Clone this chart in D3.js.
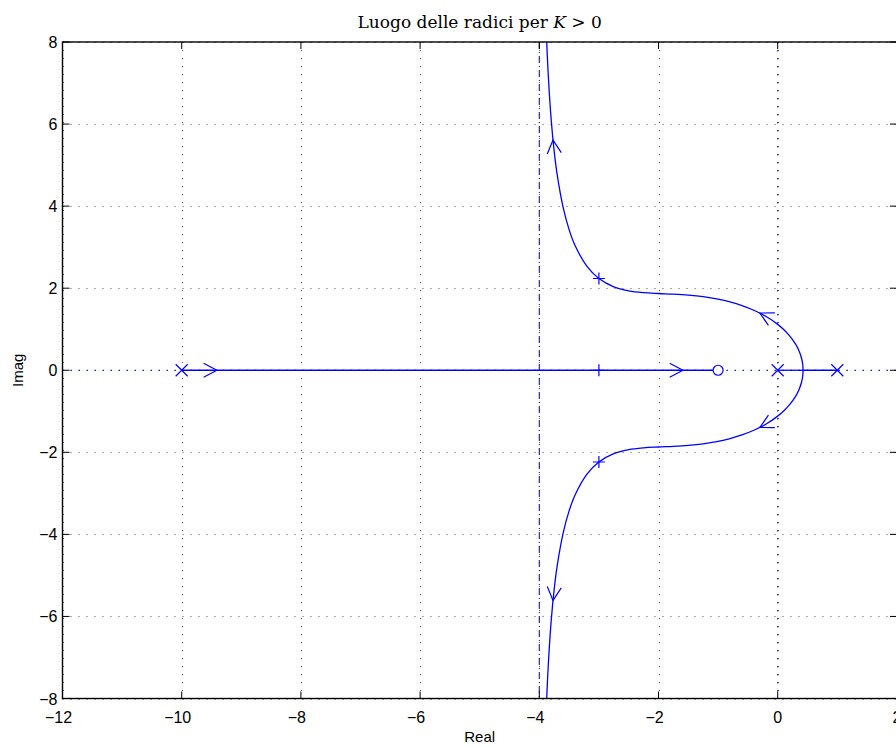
<!DOCTYPE html>
<html>
<head>
<meta charset="utf-8">
<script src="https://cdn.jsdelivr.net/npm/d3@7"></script>
<style>
body { margin: 0; background: #fff; }
</style>
</head>
<body>
<script>
// Chart size and plot box
var width = 896;
var height = 747;
var plotLeft = 62.5, plotRight = 896.9, plotTop = 42, plotBottom = 698.5;

var xTicks = [-12, -10, -8, -6, -4, -2, 0, 2];
var yTicks = [-8, -6, -4, -2, 0, 2, 4, 6, 8];

// open loop poles and zeros
var poleRe = [-10, 0, 1];
var zeroRe = [-1];

// closed loop poles for the marked gain
var gainRe = [-3, -3, -3];
var gainIm = [2.236, 0, -2.236];

// upper complex branch (starts at breakaway point)
var upperRe = [0.426, 0.42, 0.4, 0.35, 0.3, 0.2, 0.1, 0, -0.2, -0.4, -0.6, -0.8, -1.0, -1.25, -1.5, -1.75,
    -2.0, -2.25, -2.5, -2.75, -3.0, -3.2, -3.4, -3.5, -3.6, -3.7, -3.75, -3.8, -3.85, -3.88];
var upperIm = [0, 0.141, 0.292, 0.497, 0.635, 0.838, 0.993, 1.118, 1.315, 1.463, 1.577, 1.665, 1.732, 1.792, 1.830, 1.854,
    1.871, 1.892, 1.937, 2.034, 2.236, 2.532, 3.040, 3.428, 3.967, 4.766, 5.333, 6.096, 7.203, 8.167];

// lower complex branch
var lowerRe = [0.426, 0.42, 0.4, 0.35, 0.3, 0.2, 0.1, 0, -0.2, -0.4, -0.6, -0.8, -1.0, -1.25, -1.5, -1.75,
    -2.0, -2.25, -2.5, -2.75, -3.0, -3.2, -3.4, -3.5, -3.6, -3.7, -3.75, -3.8, -3.85, -3.88];
var lowerIm = [0, -0.141, -0.292, -0.497, -0.635, -0.838, -0.993, -1.118, -1.315, -1.463, -1.577, -1.665, -1.732, -1.792, -1.830, -1.854,
    -1.871, -1.892, -1.937, -2.034, -2.236, -2.532, -3.040, -3.428, -3.967, -4.766, -5.333, -6.096, -7.203, -8.167];

// real axis branches [from, to]
var realFrom = [-10, 0, 1];
var realTo = [-1, 0.426, 0.426];

// asymptote centre
var asymRe = -4;

// arrows: tip position and direction (data units)
var arrowRe = [-9.41, -1.59, -0.3, -0.3, -3.77, -3.77];
var arrowIm = [0, 0, 1.394, -1.394, 5.61, -5.61];
var arrowDRe = [1, 1, -0.2, -0.2, -0.05, -0.05];
var arrowDIm = [0, 0, 0.148, -0.148, 0.76, -0.76];

var blue = "#0000ff";

var x = d3.scaleLinear().domain([-12, 2]).range([plotLeft, plotRight]);
var y = d3.scaleLinear().domain([-8, 8]).range([plotBottom, plotTop]);

var svg = d3.select("body")
    .append("svg")
    .attr("width", width)
    .attr("height", height)
    .style("font-family", "'Liberation Sans', Arial, sans-serif");

svg.append("defs").append("clipPath")
    .attr("id", "plot")
    .append("rect")
    .attr("x", plotLeft)
    .attr("y", plotTop)
    .attr("width", plotRight - plotLeft)
    .attr("height", plotBottom - plotTop);

// grid
var grid = svg.append("g")
    .attr("stroke", "#555")
    .attr("stroke-width", 1)
    .attr("stroke-dasharray", "1,7");

grid.selectAll(".gx")
    .data(xTicks)
    .enter()
    .append("line")
    .attr("x1", function (d) { return Math.round(x(d)) + 0.5; })
    .attr("x2", function (d) { return Math.round(x(d)) + 0.5; })
    .attr("y1", plotTop)
    .attr("y2", plotBottom);

grid.selectAll(".gy")
    .data(yTicks)
    .enter()
    .append("line")
    .attr("y1", function (d) { return Math.round(y(d)) + 0.5; })
    .attr("y2", function (d) { return Math.round(y(d)) + 0.5; })
    .attr("x1", plotLeft)
    .attr("x2", plotRight);

var plot = svg.append("g").attr("clip-path", "url(#plot)");

// dotted real and imaginary axes
plot.append("line")
    .attr("x1", plotLeft).attr("x2", plotRight)
    .attr("y1", y(0)).attr("y2", y(0))
    .attr("stroke", blue)
    .attr("stroke-dasharray", "1.5,6.5");

plot.append("line")
    .attr("x1", x(0)).attr("x2", x(0))
    .attr("y1", plotTop).attr("y2", plotBottom)
    .attr("stroke", blue)
    .attr("stroke-dasharray", "1.5,6.5");

// asymptote
plot.append("line")
    .attr("x1", x(asymRe)).attr("x2", x(asymRe))
    .attr("y1", plotTop).attr("y2", plotBottom)
    .attr("stroke", "#1a1a90")
    .attr("stroke-width", 1.1)
    .attr("stroke-dasharray", "7,3,1,3");

// real axis branches
plot.selectAll(".rb")
    .data(realFrom)
    .enter()
    .append("line")
    .attr("x1", function (d) { return x(d); })
    .attr("x2", function (d, i) { return x(realTo[i]); })
    .attr("y1", y(0))
    .attr("y2", y(0))
    .attr("stroke", blue)
    .attr("stroke-width", 1.3);

// complex branches
var line = d3.line()
    .x(function (d) { return x(d[0]); })
    .y(function (d) { return y(d[1]); })
    .curve(d3.curveCatmullRom);

var branches = [d3.zip(upperRe, upperIm), d3.zip(lowerRe, lowerIm)];

plot.selectAll(".branch")
    .data(branches)
    .enter()
    .append("path")
    .attr("d", line)
    .attr("fill", "none")
    .attr("stroke", blue)
    .attr("stroke-width", 1.3);

// arrows
var arrowLen = 15, arrowAng = 28 * Math.PI / 180;
arrowRe.forEach(function (a, i) {
    var tx = x(a), ty = y(arrowIm[i]);
    var dx = x(a + arrowDRe[i]) - tx, dy = y(arrowIm[i] + arrowDIm[i]) - ty;
    var n = Math.sqrt(dx * dx + dy * dy);
    dx /= n; dy /= n;
    var pts = [-1, 1].map(function (s) {
        var c = Math.cos(s * arrowAng), sn = Math.sin(s * arrowAng);
        var rx = dx * c - dy * sn, ry = dx * sn + dy * c;
        return [tx - arrowLen * rx, ty - arrowLen * ry];
    });
    plot.append("path")
        .attr("d", "M" + pts[0] + "L" + tx + "," + ty + "L" + pts[1])
        .attr("fill", "none")
        .attr("stroke", blue)
        .attr("stroke-width", 1.2);
});

// poles (x marks)
var m = 6;
plot.selectAll(".pole")
    .data(poleRe)
    .enter()
    .append("path")
    .attr("d", function (d) {
        var px = x(d), py = y(0);
        return "M" + (px - m) + "," + (py - m) + "L" + (px + m) + "," + (py + m) +
            "M" + (px - m) + "," + (py + m) + "L" + (px + m) + "," + (py - m);
    })
    .attr("stroke", blue)
    .attr("stroke-width", 1.2);

// zeros
plot.selectAll(".zero")
    .data(zeroRe)
    .enter()
    .append("circle")
    .attr("cx", function (d) { return x(d); })
    .attr("cy", y(0))
    .attr("r", 5)
    .attr("fill", "#fff")
    .attr("stroke", blue)
    .attr("stroke-width", 1.2);

// gain markers (+)
plot.selectAll(".gain")
    .data(gainRe)
    .enter()
    .append("path")
    .attr("d", function (d, i) {
        var px = x(d), py = y(gainIm[i]);
        return "M" + (px - m) + "," + py + "L" + (px + m) + "," + py +
            "M" + px + "," + (py - m) + "L" + px + "," + (py + m);
    })
    .attr("stroke", blue)
    .attr("stroke-width", 1.2);

// axes box
svg.append("rect")
    .attr("x", plotLeft)
    .attr("y", plotTop)
    .attr("width", plotRight - plotLeft)
    .attr("height", plotBottom - plotTop)
    .attr("fill", "none")
    .attr("stroke", "#000")
    .attr("stroke-width", 1.4);

// inward ticks
var tl = 7;
var ticks = svg.append("g").attr("stroke", "#000").attr("stroke-width", 1);
xTicks.forEach(function (d) {
    ticks.append("line").attr("x1", x(d)).attr("x2", x(d)).attr("y1", plotBottom).attr("y2", plotBottom - tl);
    ticks.append("line").attr("x1", x(d)).attr("x2", x(d)).attr("y1", plotTop).attr("y2", plotTop + tl);
});
yTicks.forEach(function (d) {
    ticks.append("line").attr("y1", y(d)).attr("y2", y(d)).attr("x1", plotLeft).attr("x2", plotLeft + tl);
    ticks.append("line").attr("y1", y(d)).attr("y2", y(d)).attr("x1", plotRight).attr("x2", plotRight - tl);
});

var fmt = d3.format("d");

// tick labels
svg.selectAll(".xl")
    .data(xTicks)
    .enter()
    .append("text")
    .attr("x", function (d) { return x(d) + (d < 0 ? -4 : 0); })
    .attr("y", plotBottom + 24)
    .attr("text-anchor", "middle")
    .attr("font-size", 16)
    .text(fmt);

svg.selectAll(".yl")
    .data(yTicks)
    .enter()
    .append("text")
    .attr("x", plotLeft - 5)
    .attr("y", function (d) { return y(d) + 6; })
    .attr("text-anchor", "end")
    .attr("font-size", 16)
    .text(fmt);

// axis titles
svg.append("text")
    .attr("x", (plotLeft + plotRight) / 2)
    .attr("y", 742)
    .attr("text-anchor", "middle")
    .attr("font-size", 15)
    .text("Real");

svg.append("text")
    .attr("transform", "translate(23," + y(0) + ") rotate(-90)")
    .attr("text-anchor", "middle")
    .attr("font-size", 15)
    .text("Imag");

// title
var title = svg.append("text")
    .attr("x", (plotLeft + plotRight) / 2)
    .attr("y", 28)
    .attr("text-anchor", "middle")
    .attr("font-size", 17)
    .style("font-family", "'DejaVu Serif', serif");
title.append("tspan").text("Luogo delle radici per ");
title.append("tspan").attr("font-style", "italic").text("K");
title.append("tspan").text(" > 0");
</script>
</body>
</html>
